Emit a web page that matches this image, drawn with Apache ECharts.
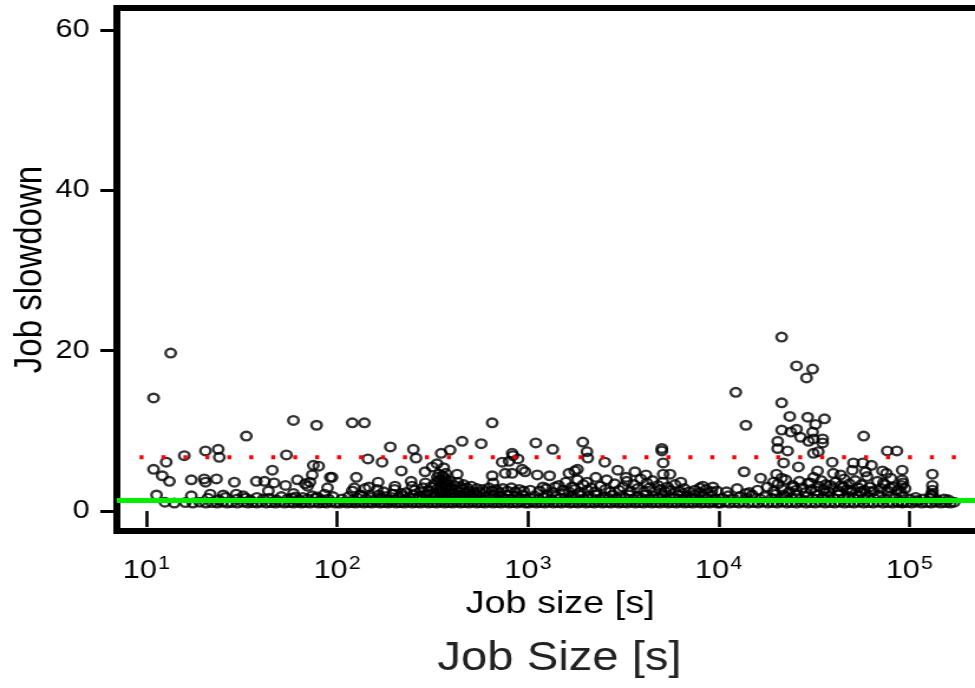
<!DOCTYPE html>
<html>
<head>
<meta charset="utf-8">
<script src="https://cdn.jsdelivr.net/npm/echarts@6/dist/echarts.min.js"></script>
<style>
html,body{margin:0;padding:0;background:#fff;overflow:hidden;}
#wrap{width:975px;height:688px;overflow:hidden;}
#chart{width:826px;height:688px;transform:scaleX(1.1804);transform-origin:0 0;}
</style>
</head>
<body>
<div id="wrap"><div id="chart"></div></div>
<script>
// ---- data (job size [s], job slowdown) ----
const xTicks = [10, 100, 1000, 10000, 100000];
const yTicks = [0, 20, 40, 60];
const xTitle = 'Job size [s]';
const yTitle = 'Job slowdown';
const bottomTitle = 'Job Size [s]';

const meanSlowdown = 6.7;      // red dotted line
const medianSlowdown = 1.3;    // green line
const meanRange = [9.2, 187000];
const medianRange = [7, 311000];

const sparsePoints = [
  [10.9,14.1],[13.4,19.7],[10.9,5.2],[12.7,6.1],[12.1,4.4],[13.2,3.7],[11.3,2.0],[15.8,6.9],
  [20.4,7.5],[23.8,7.7],[24.1,6.7],[17.2,3.9],[20.1,4.0],[20.4,3.6],[23.3,4.0],[28.9,3.6],
  [33.4,9.35],[37.7,3.7],[41.6,3.7],[45.7,5.1],[46.7,3.5],[43.6,2.5],[53.6,3.2],[54.2,7.0],
  [59,11.3],[61.9,3.9],[68,3.4],[75,5.7],[80,5.6],[74,4.5],[72,3.6],[70,3.1],[78,10.7],
  [89,2.9],[92,4.2],[17.2,1.9],[21.6,2.1],[25.3,2.0],[29.6,2.1],[32.2,1.9],[59,2.2],[60.4,1.75],[78.6,1.75],
  [120,11.0],[139,11.0],[94,4.2],[126,4.2],[123,2.9],[132,2.0],[145,6.5],[147,3.0],[162,2.7],
  [164,3.6],[172,6.1],[190,8.0],[201,3.1],[217,5.0],[217,2.2],[244,3.7],[247,3.1],[251,7.7],
  [259,6.6],[282,2.9],[289,4.9],[315,5.5],[334,5.9],[351,7.2],[362,5.4],[371,4.7],[391,7.6],
  [426,4.6],[452,8.7],[569,8.4],[650,11.0],[650,4.4],[657,3.5],[733,6.1],[760,4.7],[797,6.2],
  [827,7.2],[835,6.9],[827,4.7],[888,6.5],[934,5.2],[966,4.9],[1030,2.6],
  [1100,8.5],[1120,4.5],[1200,3.0],[1300,4.4],[1350,7.7],[1390,3.0],[1640,4.7],[1760,5.0],
  [1820,5.2],[1940,8.6],[2040,7.4],[2060,6.6],[2040,3.6],[2270,4.2],[2530,6.1],[2590,3.9],
  [2960,5.1],[3270,4.2],[3640,4.9],[4160,4.5],[5040,7.8],[5040,7.5],[5120,6.0],[5120,4.6],
  [5560,4.6],[6340,3.6],[6500,2.2],[7970,2.9],[8260,3.1],[9340,3.0],
  [12300,14.8],[13900,10.7],[13600,4.9],[13900,2.2],[16600,4.1],[19400,3.6],[20100,4.6],
  [20400,8.7],[20400,7.8],[21400,21.7],[21400,13.5],[21400,10.1],[21400,4.1],[21900,6.0],
  [21900,2.0],[23000,7.5],[23600,11.8],[23900,9.85],[24700,3.0],[25600,18.1],[25600,10.2],
  [26200,5.5],[26900,9.2],[28900,16.6],[29300,11.7],[29600,8.7],[30300,3.5],[31100,17.7],
  [31100,9.85],[31400,9.0],[31400,7.2],[32200,10.8],[33000,5.0],[33300,7.4],[35100,9.0],
  [35100,8.5],[35500,1.75],[35900,11.5],[38600,3.2],[39400,6.1],[39900,4.7],[43600,4.5],
  [45100,3.0],[49200,2.6],[50300,5.1],[50900,6.0],[55600,2.4],[57000,6.0],[57600,9.35],
  [58900,4.9],[62600,2.4],[63300,5.7],[72300,5.0],[73100,3.5],[75800,4.7],[76600,7.5],
  [79200,2.9],[86000,7.5],[87000,1.1],[90000,2.4],
  [91700,5.1],[91700,3.9],[92600,3.5],[91700,1.1],[110000,1.3],[132000,4.6],[132000,3.2],
  [132000,2.6],[132000,2.2],[160000,1.4]
];

const bandBottom = [
  [12.5,1.1],[14,1.0],[16,1.05],[17.5,1.0],[19,1.1],[20.5,1.0],[22,1.05],[23.5,1.0],[25,1.1],
  [26.5,1.0],[28,1.05],[30,1.0],[32,1.1],[34,1.0],[36,1.05],[38,1.0],[40,1.1],[42.5,1.0],
  [45,1.05],[47.5,1.0],[50,1.1],[53,1.0],[56,1.05],[59,1.0],[62,1.1],[65,1.0],[68,1.05],
  [72,1.0],[76,1.1],[80,1.0],[84,1.05],[88,1.0],[93,1.1],[98,1.0],
  [103,1.0],[108,1.1],[113,1.0],[119,1.05],[125,1.0],[131,1.1],[138,1.0],[145,1.05],[152,1.0],
  [160,1.1],[168,1.0],[176,1.05],[185,1.0],[194,1.1],[204,1.0],[214,1.05],[225,1.0],[236,1.1],
  [248,1.0],[260,1.05],[273,1.0],[287,1.1],[301,1.0],[316,1.05],[332,1.0],[349,1.1],[366,1.0],
  [384,1.05],[403,1.0],[423,1.1],[444,1.0],[466,1.05],[490,1.0],[514,1.1],[540,1.0],[567,1.05],
  [595,1.0],[625,1.1],[656,1.0],[689,1.05],[723,1.0],[759,1.1],[797,1.0],[837,1.05],[879,1.0],
  [923,1.1],[969,1.0],
  [1010,1.0],[1060,1.1],[1110,1.0],[1170,1.05],[1230,1.0],[1290,1.1],[1360,1.0],[1430,1.05],
  [1500,1.0],[1580,1.1],[1660,1.0],[1740,1.05],[1830,1.0],[1920,1.1],[2020,1.0],[2120,1.05],
  [2230,1.0],[2340,1.1],[2460,1.0],[2590,1.05],[2720,1.0],[2860,1.1],[3000,1.0],[3150,1.05],
  [3310,1.0],[3480,1.1],[3660,1.0],[3850,1.05],[4040,1.0],[4250,1.1],[4460,1.0],[4690,1.05],
  [4930,1.0],[5180,1.1],[5440,1.0],[5720,1.05],[6010,1.0],[6320,1.1],[6640,1.0],[6980,1.05],
  [7330,1.0],[7710,1.1],[8100,1.0],[8510,1.05],[8950,1.0],[9400,1.1],[9880,1.0],
  [10200,1.0],[10800,1.1],[11400,1.0],[12100,1.05],[12800,1.0],[13500,1.1],[14300,1.0],
  [15200,1.05],[16100,1.0],[17100,1.1],[18100,1.0],[19200,1.05],[20300,1.0],[21500,1.1],
  [22800,1.0],[24100,1.05],[25600,1.0],[27100,1.1],[28700,1.0],[30400,1.05],[32200,1.0],
  [34200,1.1],[36200,1.0],[38400,1.05],[40700,1.0],[43100,1.1],[45700,1.0],[48400,1.05],
  [51300,1.0],[54400,1.1],[57600,1.0],[61100,1.05],[64700,1.0],[68600,1.1],[72700,1.0],
  [77100,1.05],[81700,1.0],[86600,1.1],[91800,1.0],[97300,1.05],[103000,1.0],[109000,1.1],
  [116000,1.0],[123000,1.05],[130000,1.0],[138000,1.1],[146000,1.0],[155000,1.05],[164000,1.0],
  [172000,1.1]
];

const bandMid = [
  [21,1.6],[24,1.4],[26,1.7],[30,1.5],[33,1.6],[35,1.4],[38,1.7],[41,1.5],[44,1.6],[48,1.4],
  [51,1.8],[55,1.5],[58,1.6],[63,1.4],[66,1.7],[70,1.5],[74,1.9],[77,1.6],[83,1.4],[86,2.1],
  [90,1.5],[95,1.8],
  [106,1.5],[115,1.8],[122,1.4],[128,1.6],[136,1.9],[142,1.5],[150,1.7],[158,1.4],[165,2.0],
  [172,1.6],[180,1.8],[188,1.4],[196,2.1],[205,1.5],[212,1.7],[220,1.9],[230,1.5],[240,1.7],
  [250,2.0],[262,1.5],[270,1.8],[280,1.6],[292,2.0],[305,1.5],[318,1.7],[330,1.9],[342,1.5],
  [350,2.2],[360,1.7],[372,1.9],[380,1.5],[392,2.1],[405,1.6],[418,1.8],[430,1.5],[442,2.0],
  [455,1.7],[470,1.9],[485,1.5],[500,1.8],[520,1.6],[545,2.0],[570,1.5],[600,1.8],[630,1.6],
  [660,2.0],[690,1.5],[720,1.8],[750,1.6],[785,2.0],[820,1.5],[860,1.8],[900,1.6],[940,2.0],
  [980,1.5],
  [1030,1.6],[1080,1.9],[1140,1.5],[1200,1.7],[1260,2.0],[1320,1.5],[1400,1.8],[1470,1.6],
  [1550,2.1],[1620,1.5],[1700,1.8],[1780,1.6],[1870,2.0],[1960,1.5],[2060,1.8],[2170,1.6],
  [2280,2.0],[2400,1.5],[2520,1.8],[2650,1.6],[2790,2.0],[2930,1.5],[3080,1.8],[3230,1.6],
  [3400,2.0],[3570,1.5],[3750,1.8],[3940,1.6],[4140,2.0],[4350,1.5],[4570,1.8],[4800,1.6],
  [5050,2.0],[5300,1.5],[5570,1.8],[5850,1.6],[6150,2.0],[6460,1.5],[6790,1.8],[7140,1.6],
  [7500,2.0],[7880,1.5],[8280,1.8],[8700,1.6],[9150,1.9],[9620,1.5],
  [10500,1.6],[11200,1.9],[12000,1.5],[13000,1.8],[14000,1.6],[15000,2.0],[16500,1.5],
  [17500,1.8],[19000,1.6],[20000,2.1],[21000,1.5],[22500,1.8],[24000,1.6],[25500,2.0],
  [27000,1.5],[29000,1.8],[31000,1.6],[33000,2.0],[35000,1.5],[37500,1.8],[40000,1.6],
  [42500,2.0],[45000,1.5],[48000,1.8],[51000,1.6],[54000,2.0],[57000,1.5],[61000,1.8],
  [65000,1.6],[69000,2.0],[74000,1.5],[79000,1.8],[85000,1.6],[92000,1.9],[100000,1.5],
  [108000,1.7],[118000,1.5],[128000,1.6],[140000,1.4],[152000,1.5]
];

const bandUpper = [
  [120,2.5],[140,2.8],[175,2.4],[200,2.7],[230,2.3],[255,2.6],[275,2.4],[290,3.5],
  [300,2.5],[310,3.0],[318,2.2],[325,3.4],[332,2.7],[338,3.8],[345,2.3],[350,3.1],[356,2.6],
  [362,3.5],[368,2.2],[374,2.9],[380,3.3],[386,2.5],[392,3.7],[398,2.8],[405,2.3],[412,3.2],
  [420,2.6],[428,3.6],[436,2.4],[444,3.0],[452,2.7],[460,3.3],[470,2.3],[480,2.9],[490,2.5],
  [505,3.1],[520,2.4],[540,2.8],[560,2.3],[580,2.7],[600,2.4],[625,2.9],[650,2.5],[680,2.7],
  [710,2.3],[740,2.8],[780,2.5],[820,2.9],[860,2.4],[900,2.7],[950,2.5],
  [335,4.2],[342,4.6],[349,3.9],[357,4.4],[365,4.1],[372,3.8],
  [1150,2.5],[1250,2.8],[1350,2.3],[1450,3.2],[1520,2.6],[1580,3.6],[1640,2.4],[1700,3.0],
  [1760,2.7],[1820,3.9],[1880,2.3],[1950,3.3],[2050,2.6],[2150,2.9],[2250,2.4],[2400,3.1],
  [2550,2.7],[2700,2.4],[2850,3.4],[3000,2.6],[3150,3.0],[3300,3.7],[3450,2.5],[3600,3.3],
  [3750,2.8],[3900,4.0],[4050,2.4],[4200,3.5],[4350,2.9],[4500,3.8],[4650,2.5],[4800,3.2],
  [4950,2.7],[5100,3.6],[5250,2.4],[5400,3.0],[5600,2.6],[5900,3.3],[6200,2.5],[6600,2.8],
  [7000,2.4],[7500,2.6],[8000,2.3],[8600,2.7],[9200,2.4],[9800,2.5],
  [11000,2.4],[12500,2.8],[14500,2.3],[16000,2.6],[18000,3.0],[19500,2.5],[20500,3.4],
  [21500,2.7],[22500,3.9],[23500,2.4],[24500,3.2],[25500,2.6],[26500,3.7],[27500,2.9],
  [28500,2.3],[29500,3.5],[30500,2.7],[31500,4.2],[32500,2.5],[33500,3.1],[34500,3.8],
  [35500,2.6],[36500,3.3],[38000,2.4],[39500,2.9],[41000,3.6],[42500,2.5],[44000,3.2],
  [45500,4.0],[47000,2.7],[48500,3.4],[50000,2.4],[52000,3.8],[54000,2.9],[56000,3.3],
  [58000,2.6],[60000,4.3],[62000,3.0],[65000,2.5],[68000,3.7],[71000,2.8],[74000,3.3],
  [77000,2.5],[80000,4.1],[83000,3.0],[87000,2.6],[91000,3.2],[95000,2.8],[130000,2.0],
  [132000,1.9]
];

// ---- chart ----
const FONT = 'Liberation Sans';
const chart = echarts.init(document.getElementById('chart'), null, {renderer: 'canvas'});
const allPoints = bandBottom.concat(bandMid, bandUpper, sparsePoints);

chart.setOption({
  animation: false,
  backgroundColor: '#fff',
  grid: {
    left: 99, top: 8, width: 751, height: 523,
    outerBoundsMode: 'none', containLabel: false,
    show: true, borderColor: '#000', borderWidth: 6, backgroundColor: 'transparent'
  },
  xAxis: {
    type: 'log', logBase: 10, min: 7, max: 311000,
    name: xTitle, nameLocation: 'middle', nameGap: 57, nameMoveOverlap: false,
    nameTextStyle: {fontFamily: FONT, fontSize: 32, color: '#000'},
    axisLine: {show: false},
    splitLine: {show: false},
    minorTick: {show: false},
    axisTick: {show: true, length: 16, lineStyle: {color: '#000', width: 2.6}, customValues: xTicks},
    axisLabel: {
      customValues: xTicks, margin: 24,
      fontFamily: FONT, fontSize: 26, color: '#000',
      formatter: function (v) {
        const e = Math.round(Math.log10(v));
        return '{b|10}{s|' + e + '}';
      },
      rich: {
        b: {fontFamily: FONT, fontSize: 26, color: '#000'},
        s: {fontFamily: FONT, fontSize: 18, color: '#000', padding: [0, 0, 14, 1]}
      }
    }
  },
  yAxis: {
    type: 'value', min: -2.49, max: 62.74,
    name: yTitle, nameLocation: 'middle', nameGap: 57, nameRotate: 90, nameMoveOverlap: false,
    nameTextStyle: {fontFamily: FONT, fontSize: 33, color: '#000'},
    axisLine: {show: false},
    splitLine: {show: false},
    axisTick: {show: true, length: 14, lineStyle: {color: '#000', width: 3}, customValues: yTicks},
    axisLabel: {customValues: yTicks, margin: 23, fontFamily: FONT, fontSize: 26, color: '#000'}
  },
  series: [
    {
      type: 'scatter',
      data: allPoints,
      symbol: 'circle',
      symbolSize: 8.6,
      itemStyle: {color: 'rgba(0,0,0,0)', borderColor: '#000', borderWidth: 2.4},
      emphasis: {disabled: true},
      z: 2
    },
    {
      type: 'line',
      data: [[medianRange[0], medianSlowdown], [medianRange[1], medianSlowdown]],
      symbol: 'none',
      lineStyle: {color: '#00ee00', width: 5},
      z: 3
    },
    {
      type: 'line',
      data: [[meanRange[0], meanSlowdown], [meanRange[1], meanSlowdown]],
      symbol: 'none',
      lineStyle: {color: '#ff0000', width: 4, type: [3.4, 15.2], cap: 'butt'},
      z: 4
    }
  ],
  graphic: [{
    type: 'text',
    x: 474,
    y: 639,
    style: {
      text: bottomTitle,
      font: '40px "Liberation Sans"',
      fill: '#222',
      align: 'center',
      verticalAlign: 'top',
      shadowBlur: 2,
      shadowColor: 'rgba(0,0,0,0.6)'
    }
  }]
});
</script>
</body>
</html>
